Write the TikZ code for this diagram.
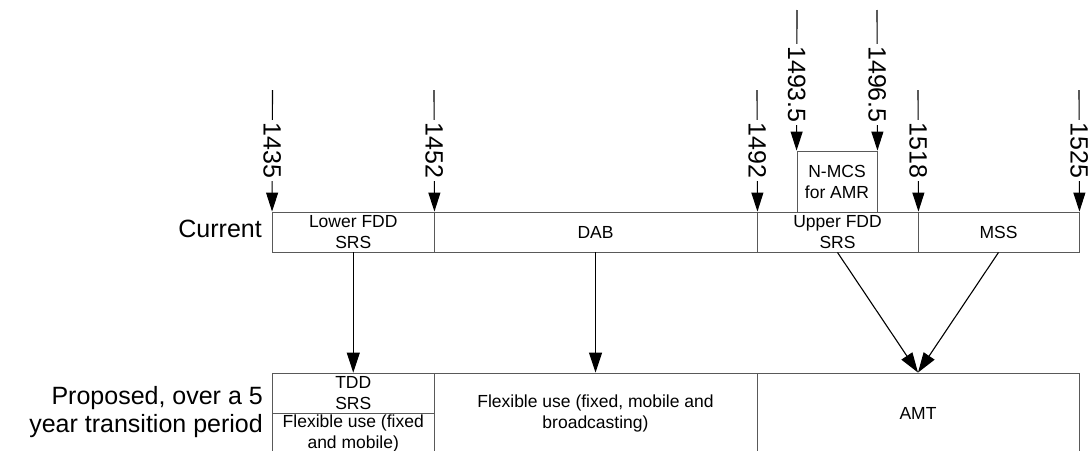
\documentclass[tikz,border=0pt]{standalone}
\usepackage{fontspec}
\setmainfont{Liberation Sans}
\usetikzlibrary{arrows.meta}
\begin{document}
\begin{tikzpicture}[x=1pt,y=-1pt,
  cell/.style={draw=black!65, line width=0.9pt, inner sep=0pt, align=center,
    font=\fontsize{17.5}{21}\selectfont},
  biglabel/.style={inner sep=0pt, align=right, font=\fontsize{25}{28}\selectfont},
  tickarrow/.style={draw=black, line width=1.1pt, -{Triangle[length=19pt,width=12pt]}},
  num/.style={rotate=-90, fill=white, inner sep=2.5pt, font=\fontsize{25}{28}\selectfont},
  conn/.style={draw=black, line width=1.1pt, -{Triangle[length=20pt,width=13pt]}}]
\useasboundingbox (0,0) rectangle (1092,450);
\begin{scope}
\clip (0,0) rectangle (1092,450);
% current row
\node[cell, minimum width=161.5pt, minimum height=40pt] (lower) at (353.25,232) {Lower FDD\\SRS};
\node[cell, minimum width=323pt, minimum height=40pt] (dab) at (595.5,232) {DAB};
\node[cell, minimum width=161pt, minimum height=40pt] (upper) at (837.5,232) {Upper FDD\\SRS};
\node[cell, minimum width=161pt, minimum height=40pt] (mss) at (998.5,232) {MSS};
\node[cell, minimum width=80pt, minimum height=61pt] (nmcs) at (837,181.5) {N-MCS\\for AMR};
% proposed row
\node[cell, minimum width=161.5pt, minimum height=40pt] (tdd) at (353.25,393) {TDD\\SRS};
\node[cell, minimum width=161.5pt, minimum height=40pt] (flexa) at (353.25,433) {Flexible use (fixed\\and mobile)};
\node[cell, minimum width=323pt, minimum height=80pt] (flexb) at (595.5,413) {Flexible use (fixed, mobile and\\broadcasting)};
\node[cell, minimum width=322pt, minimum height=80pt] (amt) at (918,413) {AMT};
% side labels
\node[biglabel, anchor=east] (lcur) at (262,229) {Current};
\node[biglabel, anchor=east] (lprop) at (263,412.5) {Proposed, over a 5\\year transition period};
% frequency ticks
\coordinate (c1435) at (272.5,90);
\coordinate (c1452) at (434,90);
\coordinate (c1492) at (757,90);
\coordinate (c1493) at (797,10);
\coordinate (c1496) at (877,10);
\coordinate (c1518) at (918,90);
\coordinate (c1525) at (1079,90);
\draw[tickarrow] (c1435) -- node[num] {1435} (lower.north west);
\draw[tickarrow] (c1452) -- node[num] {1452} (lower.north east);
\draw[tickarrow] (c1492) -- node[num] {1492} (dab.north east);
\draw[tickarrow] (c1493) -- node[num, pos=0.53] {1493.5} (nmcs.north west);
\draw[tickarrow] (c1496) -- node[num, pos=0.53] {1496.5} (nmcs.north east);
\draw[tickarrow] (c1518) -- node[num] {1518} (upper.north east);
\draw[tickarrow] (c1525) -- node[num] {1525} (mss.north east);
% transitions
\draw[conn] (lower.south) -- (tdd.north);
\draw[conn] (dab.south) -- (flexb.north);
\draw[conn] (upper.south) -- (amt.north);
\draw[conn] (mss.south) -- (amt.north);
\end{scope}
\end{tikzpicture}
\end{document}
